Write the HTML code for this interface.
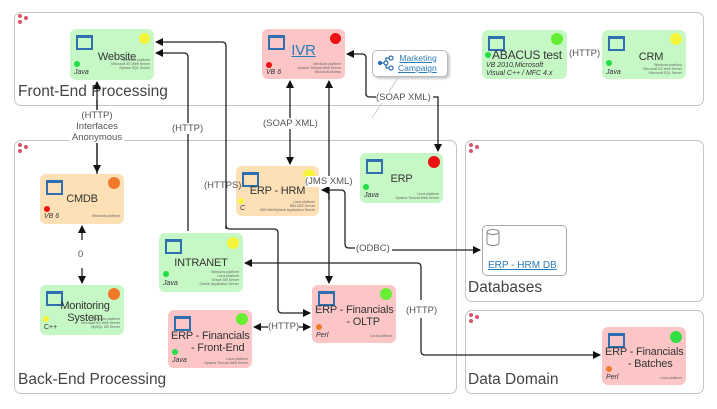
<!DOCTYPE html>
<html><head><meta charset="utf-8"><style>
body{margin:0;width:717px;height:409px;background:#fff;position:relative;overflow:hidden;font-family:"Liberation Sans",sans-serif;}
.g{position:absolute;border:1.5px solid #c4c4c4;border-radius:7px;box-sizing:border-box;}
.gl{position:absolute;font-size:15.5px;color:#444;}
.dots{position:absolute;width:12px;height:12px;}
.dots i{position:absolute;width:4px;height:4px;border-radius:50%;background:#d9546a;}
.n{position:absolute;border-radius:6px;box-sizing:border-box;}
.gr{background:#c6f8c6}.pk{background:#fdc6c6}.or{background:#fde0b6}
.ic{position:absolute;left:6px;top:6px;width:13px;height:10px;border:2px solid #2f6faf;border-top-width:3px;}
.c{position:absolute;border-radius:50%;}
.t{position:absolute;left:0;right:0;text-align:center;font-size:11px;color:#333;line-height:12px;white-space:nowrap;letter-spacing:-0.2px;}
.l{position:absolute;font-size:7px;font-style:italic;color:#333;}
.s{position:absolute;right:4px;font-size:3.5px;color:#666;text-align:right;line-height:4px;}
.lab{position:absolute;font-size:9.5px;color:#555;background:#fff;line-height:11px;text-align:center;white-space:nowrap;}
</style></head><body>
<div class="g" style="left:14px;top:12px;width:690px;height:94px"></div>
<div class="gl" style="left:18px;top:83px">Front-End Processing</div>
<div class="g" style="left:14px;top:140px;width:443px;height:254px"></div>
<div class="gl" style="left:18px;top:371px">Back-End Processing</div>
<div class="g" style="left:465px;top:140px;width:239px;height:162px"></div>
<div class="gl" style="left:468px;top:279px">Databases</div>
<div class="g" style="left:465px;top:310px;width:239px;height:84px"></div>
<div class="gl" style="left:468px;top:371px">Data Domain</div>
<div class="dots" style="left:17px;top:14px"><i style="left:1px;top:0"></i><i style="left:7px;top:2px"></i><i style="left:1px;top:6px"></i></div>
<div class="dots" style="left:17px;top:143px"><i style="left:1px;top:0"></i><i style="left:7px;top:2px"></i><i style="left:1px;top:6px"></i></div>
<div class="dots" style="left:468px;top:143px"><i style="left:1px;top:0"></i><i style="left:7px;top:2px"></i><i style="left:1px;top:6px"></i></div>
<div class="dots" style="left:468px;top:313px"><i style="left:1px;top:0"></i><i style="left:7px;top:2px"></i><i style="left:1px;top:6px"></i></div>

<div class="n gr" style="left:70px;top:29px;width:84px;height:51px"><div class="ic"></div><div class="c" style="right:4px;top:4px;width:11px;height:11px;background:#f4f43a"></div><div class="t" style="top:22px;left:10px">Website</div><div class="c" style="left:4px;top:32px;width:6px;height:6px;background:#22dd44"></div><div class="l" style="left:4px;top:40px">Java</div><div class="s" style="top:29px">Windows platform<br>Microsoft IIS Web Server<br>Sybase SQL Server</div></div>
<div class="n pk" style="left:262px;top:29px;width:83px;height:50px"><div class="ic"></div><div class="c" style="right:4px;top:4px;width:11px;height:11px;background:#ee1111"></div><div class="t" style="top:16px;font-size:15px;color:#2a7ab8;text-decoration:underline">IVR</div><div class="c" style="left:4px;top:33px;width:6px;height:6px;background:#ee1111"></div><div class="l" style="left:4px;top:40px">VB 6</div><div class="s" style="top:33px">Windows platform<br>Apache Tomcat Web Server<br>Microsoft Access</div></div>
<div style="position:absolute;left:372px;top:50px;width:76px;height:27px;border:1.5px solid #bbb;border-radius:5px;box-sizing:border-box;background:#fff;box-shadow:2px 2px 2px #ccc"></div>
<svg style="position:absolute;left:377px;top:55px" width="18" height="16"><g stroke="#2a6fb0" stroke-width="1.2" fill="none"><circle cx="3" cy="8" r="1.5" fill="#2a6fb0"/><circle cx="9" cy="8" r="2"/><circle cx="14" cy="3" r="2"/><circle cx="14" cy="13" r="2"/><path d="M4.5 8H7M9 6V3H12M9 10V13H12"/></g></svg>
<div style="position:absolute;left:398px;top:53px;font-size:8.5px;color:#2a7ab8;text-decoration:underline;line-height:10px;text-align:right">Marketing<br>Campaign</div>
<div class="n gr" style="left:482px;top:30px;width:85px;height:49px"><div class="ic"></div><div class="c" style="right:4px;top:3px;width:12px;height:12px;background:#66ee33"></div><div class="c" style="left:3px;top:22px;width:6px;height:6px;background:#22dd44"></div><div class="t" style="top:19px;left:10px;text-align:left;font-size:12px">ABACUS test</div><div class="l" style="left:4px;top:32px;line-height:8px">VB 2010,Microsoft<br>Visual C++ / MFC 4.x</div></div>
<div class="n gr" style="left:602px;top:30px;width:84px;height:49px"><div class="ic"></div><div class="c" style="right:4px;top:3px;width:12px;height:12px;background:#f4f43a"></div><div class="t" style="top:21px;left:14px">CRM</div><div class="c" style="left:4px;top:30px;width:6px;height:6px;background:#22dd44"></div><div class="l" style="left:4px;top:39px">Java</div><div class="s" style="top:33px">Windows platform<br>Microsoft IIS Web Server<br>Microsoft SQL Server</div></div>
<div class="n or" style="left:40px;top:174px;width:84px;height:50px"><div class="ic"></div><div class="c" style="right:4px;top:3px;width:12px;height:12px;background:#f07a2a"></div><div class="t" style="top:19px">CMDB</div><div class="c" style="left:4px;top:32px;width:6px;height:6px;background:#ee1111"></div><div class="l" style="left:4px;top:39px">VB 6</div><div class="s" style="top:40px">Windows platform</div></div>
<div class="n or" style="left:236px;top:166px;width:83px;height:50px"><div class="ic"></div><div class="c" style="right:4px;top:3px;width:12px;height:12px;background:#f4f43a"></div><div class="t" style="top:19px">ERP - HRM</div><div class="c" style="left:2px;top:32px;width:6px;height:6px;background:#f4f43a"></div><div class="l" style="left:4px;top:39px">C</div><div class="s" style="top:34px">Linux platform<br>IBM DB2 Server<br>IBM WebSphere Application Server</div></div>
<div class="n gr" style="left:360px;top:153px;width:83px;height:50px"><div class="ic"></div><div class="c" style="right:3px;top:3px;width:12px;height:12px;background:#ee1111"></div><div class="t" style="top:20px">ERP</div><div class="c" style="left:3px;top:31px;width:6px;height:6px;background:#22dd44"></div><div class="l" style="left:4px;top:39px">Java</div><div class="s" style="top:39px">Linux platform<br>Apache Tomcat Web Server</div></div>
<div class="n gr" style="left:159px;top:233px;width:84px;height:59px"><div class="ic"></div><div class="c" style="right:4px;top:4px;width:12px;height:12px;background:#f4f43a"></div><div class="t" style="top:24px">INTRANET</div><div class="c" style="left:4px;top:38px;width:6px;height:6px;background:#22dd44"></div><div class="l" style="left:4px;top:47px">Java</div><div class="s" style="top:37px">Windows platform<br>Linux platform<br>Oracle DB Server<br>Oracle Application Server</div></div>
<div class="n gr" style="left:40px;top:285px;width:84px;height:50px"><div class="ic"></div><div class="c" style="right:4px;top:3px;width:12px;height:12px;background:#f07a2a"></div><div class="t" style="top:15px;left:6px">Monitoring<br>System</div><div class="c" style="left:3px;top:31px;width:6px;height:6px;background:#f4f43a"></div><div class="l" style="left:4px;top:39px;font-style:normal">C++</div><div class="s" style="top:32px">Windows platform<br>Microsoft IIS Web Server<br>MySQL DB Server</div></div>
<div class="n pk" style="left:312px;top:285px;width:84px;height:58px"><div class="ic"></div><div class="c" style="right:4px;top:3px;width:12px;height:12px;background:#66ee33"></div><div class="t" style="top:19px;text-align:left;left:3px">ERP - Financials<br>&nbsp;&nbsp;&nbsp;&nbsp;&nbsp;&nbsp;&nbsp;&nbsp;&nbsp;&nbsp;&nbsp;- OLTP</div><div class="c" style="left:4px;top:39px;width:6px;height:6px;background:#f07a2a"></div><div class="l" style="left:4px;top:47px">Perl</div><div class="s" style="top:49px">Linux platform</div></div>
<div class="n pk" style="left:168px;top:310px;width:84px;height:58px"><div class="ic"></div><div class="c" style="right:4px;top:3px;width:12px;height:12px;background:#66ee33"></div><div class="t" style="top:20px;text-align:left;left:3px">ERP - Financials<br>&nbsp;&nbsp;&nbsp;&nbsp;&nbsp;&nbsp;&nbsp;- Front-End</div><div class="c" style="left:4px;top:39px;width:6px;height:6px;background:#22dd44"></div><div class="l" style="left:4px;top:47px">Java</div><div class="s" style="top:47px">Linux platform<br>Apache Tomcat Web Server</div></div>
<div class="n pk" style="left:602px;top:327px;width:84px;height:58px"><div class="ic"></div><div class="c" style="right:4px;top:4px;width:12px;height:12px;background:#33dd44"></div><div class="t" style="top:19px;text-align:left;left:3px">ERP - Financials<br>&nbsp;&nbsp;&nbsp;&nbsp;&nbsp;&nbsp;&nbsp;&nbsp;- Batches</div><div class="c" style="left:4px;top:39px;width:6px;height:6px;background:#f07a2a"></div><div class="l" style="left:4px;top:47px">Perl</div><div class="s" style="top:49px">Linux platform</div></div>
<div style="position:absolute;left:482px;top:225px;width:85px;height:51px;border:1.5px solid #aaa;border-radius:5px;box-sizing:border-box;background:#fff"></div>
<svg style="position:absolute;left:485px;top:228px" width="16" height="20"><ellipse cx="8" cy="4" rx="6" ry="2.5" fill="none" stroke="#888"/><path d="M2 4 V15 A6 2.5 0 0 0 14 15 V4" fill="none" stroke="#888"/></svg>
<div style="position:absolute;left:488px;top:260px;font-size:10px;color:#2a7ab8;text-decoration:underline">ERP - HRM DB</div>

<svg style="position:absolute;left:0;top:0" width="717" height="409">
<defs><marker id="a" markerWidth="8" markerHeight="8" refX="7" refY="4" orient="auto" markerUnits="userSpaceOnUse"><path d="M0,0 L8,4 L0,8z" fill="#111"/></marker></defs>
<g fill="none" stroke="#222" stroke-width="1.3">
<path d="M97 174 V82" marker-end="url(#a)"/><path d="M97 100 V172" marker-end="url(#a)"/>
<path d="M226 229 V46 Q226 42 222 42 H156" marker-end="url(#a)"/>
<path d="M226 225 Q226 229 230 229 H274 Q278 229 278 233 V309 Q278 313 282 313 H310" marker-end="url(#a)"/>
<path d="M188 231 V57 Q188 53 184 53 H156" marker-end="url(#a)"/>
<path d="M290 100 V81" marker-end="url(#a)"/><path d="M290 100 V164" marker-end="url(#a)"/>
<path d="M329 200 V81" marker-end="url(#a)"/><path d="M329 190 V283" marker-end="url(#a)"/>
<path d="M366 95 V58 Q366 54 362 54 H347" marker-end="url(#a)"/><path d="M366 94 Q366 97 370 97 H376"/>
<path d="M433 97 H438 V151" marker-end="url(#a)"/>
<path d="M345 244 V194 Q345 190 341 190 H322" marker-end="url(#a)"/><path d="M345 244 Q345 248 349 248 H355"/>
<path d="M392 250 H480" marker-end="url(#a)"/>
<path d="M421 300 V267 Q421 263 417 263 H245" marker-end="url(#a)"/><path d="M421 318 V351 Q421 355 425 355 H600" marker-end="url(#a)"/>
<path d="M82 240 V226" marker-end="url(#a)"/><path d="M82 268 V283" marker-end="url(#a)"/>
<path d="M268 327 H254" marker-end="url(#a)"/><path d="M298 327 H310" marker-end="url(#a)"/>
</g>
<path d="M398 78 L372 118" stroke="#ccc" stroke-width="1" fill="none"/>
</svg>
<div class="lab" style="left:70px;top:110px;width:54px">(HTTP)<br>Interfaces<br>Anonymous</div>
<div class="lab" style="left:172px;top:123px">(HTTP)</div>
<div class="lab" style="left:204px;top:180px;background:transparent">(HTTPS)</div>
<div class="lab" style="left:263px;top:118px">(SOAP XML)</div>
<div class="lab" style="left:305px;top:176px">(JMS XML)</div>
<div class="lab" style="left:376px;top:92px">(SOAP XML)</div>
<div class="lab" style="left:356px;top:243px">(ODBC)</div>
<div class="lab" style="left:406px;top:305px">(HTTP)</div>
<div class="lab" style="left:268px;top:321px">(HTTP)</div>
<div class="lab" style="left:78px;top:249px">0</div>
<div class="lab" style="left:569px;top:48px;background:transparent">(HTTP)</div>
</body></html>
